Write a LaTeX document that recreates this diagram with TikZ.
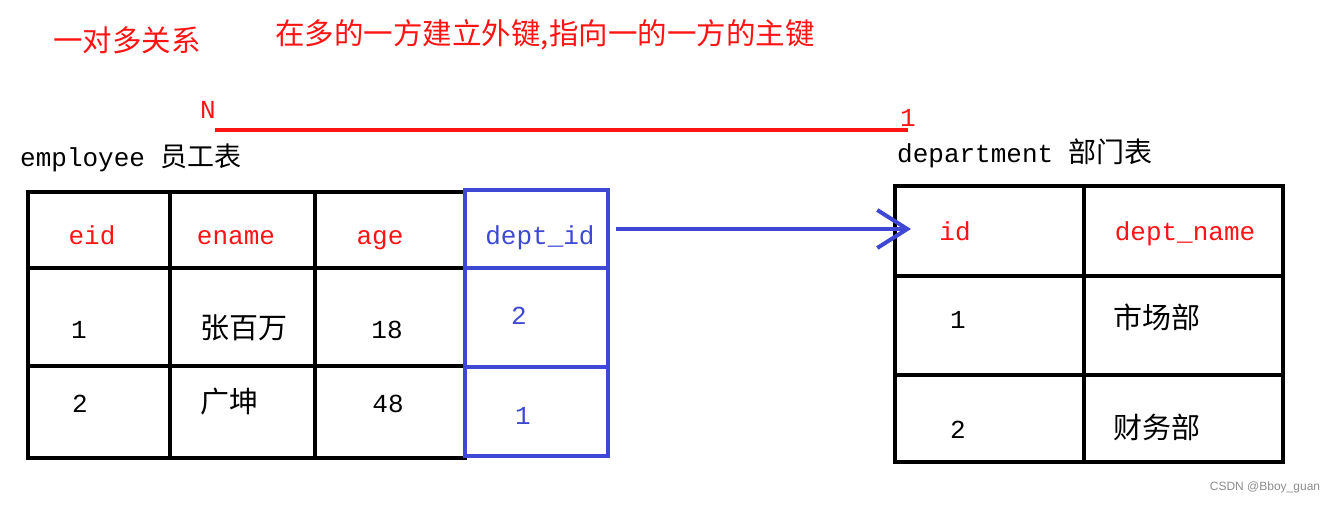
\documentclass[tikz,border=0pt]{standalone}
\usepackage{fontspec}
\usetikzlibrary{arrows.meta}
\setmainfont{Liberation Mono}
\newfontfamily\cjk{Noto Sans CJK SC}
\newfontfamily\wm{Liberation Sans}
\definecolor{myred}{RGB}{255,20,20}
\definecolor{myblue}{RGB}{62,72,212}
\begin{document}
\begin{tikzpicture}[x=1pt,y=-1pt,
  cell/.style={draw=black,line width=4pt,minimum width=#1,inner sep=0pt},
  bcell/.style={draw=myblue,line width=4pt,inner sep=0pt},
  txt/.style={inner sep=0pt,anchor=base,font=\fontsize{26}{28}\selectfont},
  head/.style={txt,text=myred},
  ctxt/.style={inner sep=0pt,anchor=base,font=\cjk\fontsize{29}{30}\selectfont},
  title/.style={inner sep=0pt,text=myred,font=\cjk\fontsize{29.5}{32}\selectfont}]
\useasboundingbox (0,0) rectangle (1344,504);
% titles
\node[title] (t1) at (127,40) {一对多关系};
\node[title] (t2) at (545,35) {在多的一方建立外键,指向一的一方的主键};
% relation line
\node[txt,text=myred] (nN) at (208,118) {N};
\node[txt,text=myred] (n1) at (908,126) {1};
\coordinate (rl1) at (215,130);
\coordinate (rl2) at (908,130);
\draw[myred,line width=4pt] (rl1) -- (rl2);
% table labels
\node[inner sep=0pt,anchor=base west] (elab) at (20,166) {\fontsize{26}{28}\selectfont employee {\cjk\fontsize{27}{28}\selectfont 员工表}};
\node[inner sep=0pt,anchor=base west] (dlab) at (897,162) {\fontsize{26}{28}\selectfont department {\cjk\fontsize{28}{28}\selectfont 部门表}};
% employee table cells
\foreach \xa/\xb in {28/170,170/315,315/465}{
  \foreach \ya/\yb in {192/268,268/366,366/458}{
    \draw[line width=4pt] (\xa,\ya) rectangle (\xb,\yb);
  }
}
\node[bcell,minimum width=143pt,minimum height=78pt] (eh4) at (536.5,229) {};
\node[bcell,minimum width=143pt,minimum height=99pt] (er14) at (536.5,317.5) {};
\node[bcell,minimum width=143pt,minimum height=89pt] (er24) at (536.5,411.5) {};
% employee texts
\node[head] (eh1t) at (92,244) {eid};
\node[head] (eh2t) at (236,244) {ename};
\node[head] (eh3t) at (380,244) {age};
\node[txt,text=myblue] (eh4t) at (540,244) {dept\_id};
\node[txt] (e11) at (79,338) {1};
\node[ctxt] (e12) at (244,338) {张百万};
\node[txt] (e13) at (387,338) {18};
\node[txt,text=myblue] (e14) at (519,324) {2};
\node[ctxt] (e22) at (229,412) {广坤};
\node[txt] (e21) at (80,412) {2};
\node[txt] (e23) at (388,412) {48};
\node[txt,text=myblue] (e24) at (523,424) {1};
% department table
\node[cell=189pt,minimum height=90pt] (dh1) at (989.5,231) {};
\node[cell=199pt,minimum height=90pt] (dh2) at (1183.5,231) {};
\node[cell=189pt,minimum height=99pt] (d11) at (989.5,325.5) {};
\node[cell=199pt,minimum height=99pt] (d12) at (1183.5,325.5) {};
\node[cell=189pt,minimum height=87pt] (d21) at (989.5,418.5) {};
\node[cell=199pt,minimum height=87pt] (d22) at (1183.5,418.5) {};
\node[head] (dh1t) at (955,240) {id};
\node[head] (dh2t) at (1185,240) {dept\_name};
\node[txt] (d11t) at (958,328) {1};
\node[ctxt] (d12t) at (1157,328) {市场部};
\node[txt] (d21t) at (958,438) {2};
\node[ctxt] (d22t) at (1157,438) {财务部};
% arrow
\draw[myblue,line width=4pt,-{Straight Barb[length=30pt,width=38pt,line width=4pt]}]
  ([xshift=6pt]eh4.east) -- ([xshift=18pt]eh4.east -| dh1.west);
% watermark
\node[inner sep=0pt,text=black!45,font=\wm\fontsize{12}{14}\selectfont] (wm) at (1265,487) {CSDN @Bboy\_guan};
\end{tikzpicture}
\end{document}
